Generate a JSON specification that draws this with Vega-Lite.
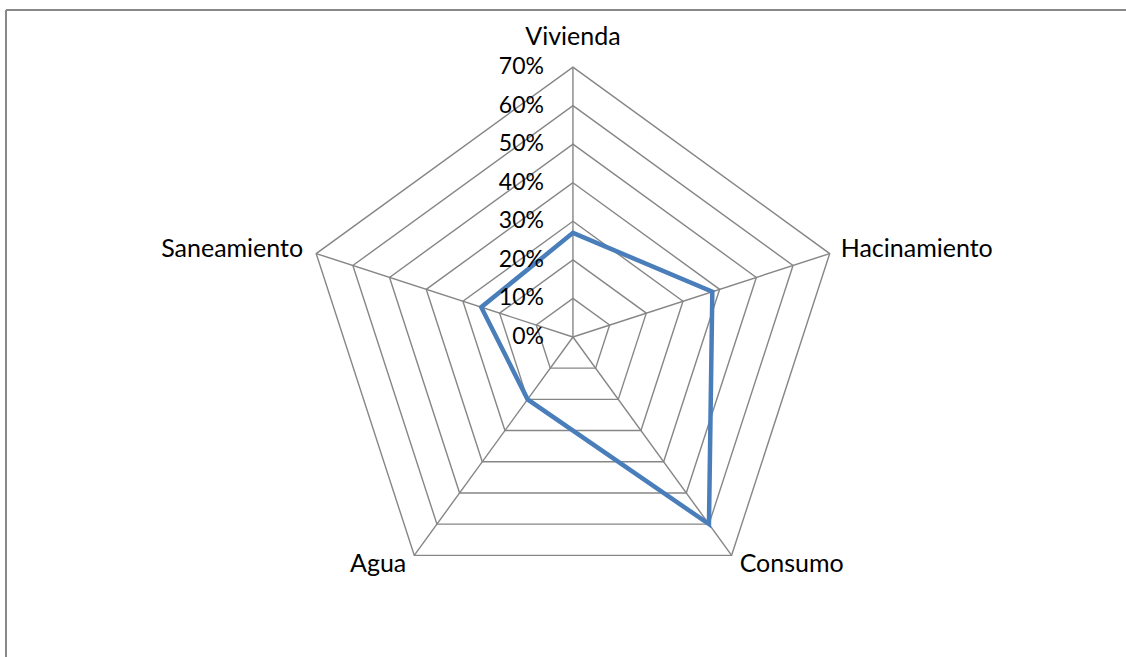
{
  "$schema": "https://vega.github.io/schema/vega-lite/v6.json",
  "width": 1120,
  "height": 647,
  "autosize": {"type": "none"},
  "padding": {"left": 6, "top": 10, "right": 0, "bottom": 0},
  "background": "white",
  "config": {
    "view": {"stroke": null},
    "text": {"font": "Lato", "fontSize": 25, "color": "#000000"}
  },
  "datasets": {
    "series": [
      {"cat": "Vivienda", "idx": 0, "value": 27},
      {"cat": "Hacinamiento", "idx": 1, "value": 38},
      {"cat": "Consumo", "idx": 2, "value": 60},
      {"cat": "Agua", "idx": 3, "value": 20},
      {"cat": "Saneamiento", "idx": 4, "value": 25}
    ],
    "rings": [
      {"level": 10, "axes": [0, 1, 2, 3, 4]},
      {"level": 20, "axes": [0, 1, 2, 3, 4]},
      {"level": 30, "axes": [0, 1, 2, 3, 4]},
      {"level": 40, "axes": [0, 1, 2, 3, 4]},
      {"level": 50, "axes": [0, 1, 2, 3, 4]},
      {"level": 60, "axes": [0, 1, 2, 3, 4]},
      {"level": 70, "axes": [0, 1, 2, 3, 4]}
    ],
    "ticks": [
      {"level": 0}, {"level": 10}, {"level": 20}, {"level": 30},
      {"level": 40}, {"level": 50}, {"level": 60}, {"level": 70}
    ],
    "frame": [{"edge": "chart area"}]
  },
  "layer": [
    {
      "data": {"name": "rings"},
      "transform": [
        {"flatten": ["axes"]},
        {"calculate": "datum.level * sin(datum.axes * 2 * PI / 5)", "as": "px"},
        {"calculate": "datum.level * cos(datum.axes * 2 * PI / 5)", "as": "py"}
      ],
      "mark": {"type": "line", "interpolate": "linear-closed", "stroke": "#868686", "strokeWidth": 1.4},
      "encoding": {
        "x": {"field": "px", "type": "quantitative", "scale": {"domain": [-147.0, 143.4], "nice": false, "zero": false}, "axis": null},
        "y": {"field": "py", "type": "quantitative", "scale": {"domain": [-83.0, 84.8], "nice": false, "zero": false}, "axis": null},
        "detail": {"field": "level", "type": "nominal"},
        "order": {"field": "axes", "type": "quantitative"}
      }
    },
    {
      "data": {"name": "frame"},
      "transform": [{"calculate": "-147.0", "as": "fx"}],
      "mark": {"type": "rule", "stroke": "#888888", "strokeWidth": 2},
      "encoding": {
        "x": {"field": "fx", "type": "quantitative"}
      }
    },
    {
      "data": {"name": "frame"},
      "transform": [{"calculate": "84.8", "as": "fy"}],
      "mark": {"type": "rule", "stroke": "#888888", "strokeWidth": 2},
      "encoding": {
        "y": {"field": "fy", "type": "quantitative"}
      }
    },
    {
      "data": {"name": "series"},
      "transform": [
        {"calculate": "70 * sin(datum.idx * 2 * PI / 5)", "as": "sx"},
        {"calculate": "70 * cos(datum.idx * 2 * PI / 5)", "as": "sy"},
        {"calculate": "0", "as": "cx"},
        {"calculate": "0", "as": "cy"}
      ],
      "mark": {"type": "rule", "stroke": "#868686", "strokeWidth": 1.4},
      "encoding": {
        "x": {"field": "cx", "type": "quantitative"},
        "y": {"field": "cy", "type": "quantitative"},
        "x2": {"field": "sx"},
        "y2": {"field": "sy"}
      }
    },
    {
      "data": {"name": "series"},
      "transform": [
        {"calculate": "datum.value * sin(datum.idx * 2 * PI / 5)", "as": "px"},
        {"calculate": "datum.value * cos(datum.idx * 2 * PI / 5)", "as": "py"}
      ],
      "mark": {"type": "line", "interpolate": "linear-closed", "stroke": "#4a7ebb", "strokeWidth": 4.5, "strokeJoin": "miter"},
      "encoding": {
        "x": {"field": "px", "type": "quantitative"},
        "y": {"field": "py", "type": "quantitative"},
        "order": {"field": "idx", "type": "quantitative"}
      }
    },
    {
      "data": {"name": "ticks"},
      "transform": [
        {"calculate": "datum.level + '%'", "as": "label"},
        {"calculate": "0", "as": "cx"}
      ],
      "mark": {"type": "text", "align": "right", "baseline": "middle", "dx": -29, "fontSize": 23},
      "encoding": {
        "x": {"field": "cx", "type": "quantitative"},
        "y": {"field": "level", "type": "quantitative"},
        "text": {"field": "label", "type": "nominal"}
      }
    },
    {
      "data": {"name": "series"},
      "transform": [
        {"filter": "datum.cat == 'Vivienda'"},
        {"calculate": "70 * sin(datum.idx * 2 * PI / 5)", "as": "sx"},
        {"calculate": "70 * cos(datum.idx * 2 * PI / 5)", "as": "sy"}
      ],
      "mark": {"type": "text", "align": "center", "baseline": "alphabetic", "dy": -22},
      "encoding": {
        "x": {"field": "sx", "type": "quantitative"},
        "y": {"field": "sy", "type": "quantitative"},
        "text": {"field": "cat", "type": "nominal"}
      }
    },
    {
      "data": {"name": "series"},
      "transform": [
        {"filter": "datum.cat == 'Hacinamiento'"},
        {"calculate": "70 * sin(datum.idx * 2 * PI / 5)", "as": "sx"},
        {"calculate": "70 * cos(datum.idx * 2 * PI / 5)", "as": "sy"}
      ],
      "mark": {"type": "text", "align": "left", "baseline": "alphabetic", "dx": 11, "dy": 3},
      "encoding": {
        "x": {"field": "sx", "type": "quantitative"},
        "y": {"field": "sy", "type": "quantitative"},
        "text": {"field": "cat", "type": "nominal"}
      }
    },
    {
      "data": {"name": "series"},
      "transform": [
        {"filter": "datum.cat == 'Consumo'"},
        {"calculate": "70 * sin(datum.idx * 2 * PI / 5)", "as": "sx"},
        {"calculate": "70 * cos(datum.idx * 2 * PI / 5)", "as": "sy"}
      ],
      "mark": {"type": "text", "align": "left", "baseline": "alphabetic", "dx": 8, "dy": 17},
      "encoding": {
        "x": {"field": "sx", "type": "quantitative"},
        "y": {"field": "sy", "type": "quantitative"},
        "text": {"field": "cat", "type": "nominal"}
      }
    },
    {
      "data": {"name": "series"},
      "transform": [
        {"filter": "datum.cat == 'Agua'"},
        {"calculate": "70 * sin(datum.idx * 2 * PI / 5)", "as": "sx"},
        {"calculate": "70 * cos(datum.idx * 2 * PI / 5)", "as": "sy"}
      ],
      "mark": {"type": "text", "align": "right", "baseline": "alphabetic", "dx": -8, "dy": 17},
      "encoding": {
        "x": {"field": "sx", "type": "quantitative"},
        "y": {"field": "sy", "type": "quantitative"},
        "text": {"field": "cat", "type": "nominal"}
      }
    },
    {
      "data": {"name": "series"},
      "transform": [
        {"filter": "datum.cat == 'Saneamiento'"},
        {"calculate": "70 * sin(datum.idx * 2 * PI / 5)", "as": "sx"},
        {"calculate": "70 * cos(datum.idx * 2 * PI / 5)", "as": "sy"}
      ],
      "mark": {"type": "text", "align": "right", "baseline": "alphabetic", "dx": -13, "dy": 3},
      "encoding": {
        "x": {"field": "sx", "type": "quantitative"},
        "y": {"field": "sy", "type": "quantitative"},
        "text": {"field": "cat", "type": "nominal"}
      }
    }
  ]
}
